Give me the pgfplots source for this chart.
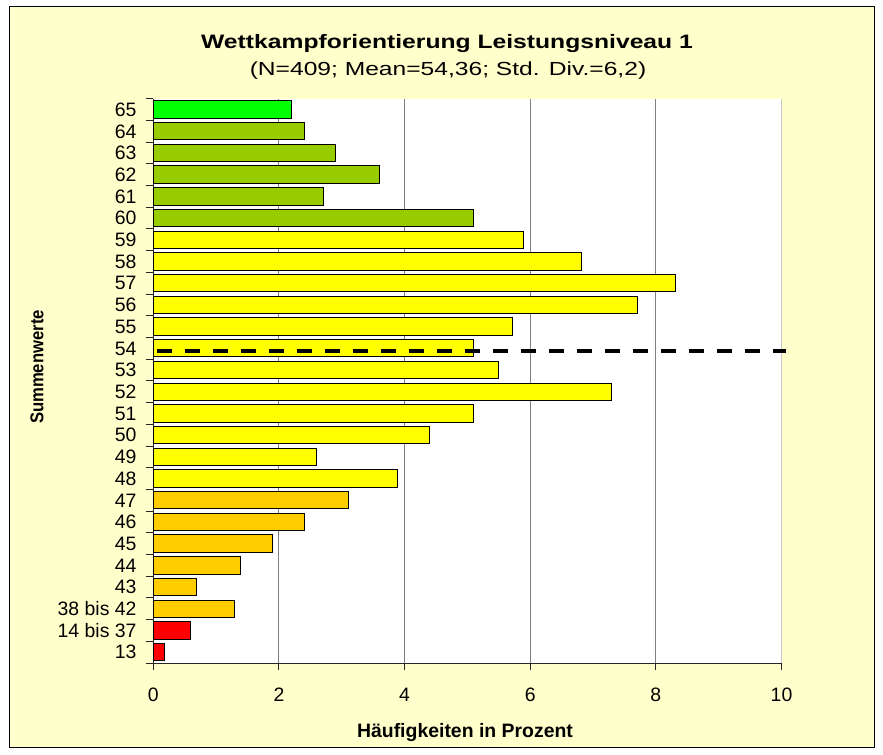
\documentclass[border=0pt]{standalone}
\usepackage{pgfplots}
\pgfplotsset{compat=1.18}
\usepackage{graphicx}
\usepackage{fontspec}
\setmainfont{Liberation Sans}
\definecolor{bgyellow}{HTML}{FFFFCC}
\definecolor{cgreen}{HTML}{00FF00}
\definecolor{colive}{HTML}{99CC00}
\definecolor{cyellow}{HTML}{FFFF00}
\definecolor{cgold}{HTML}{FFCC00}
\definecolor{cred}{HTML}{FF0000}
\definecolor{gridgray}{HTML}{808080}
\definecolor{edgegray}{HTML}{C8C8C8}
\pgfplotsset{mybar/.style={xbar, bar width=0.8, bar shift=0pt, draw=black, line width=1bp}}
\begin{document}
\begin{tikzpicture}
\fill[white] (0bp,0bp) rectangle (883bp,755bp);
\filldraw[fill=bgyellow, draw=black, line width=1bp] (9bp,7bp) rectangle (874bp,748bp);
\begin{axis}[
  at={(153.3bp,92bp)}, anchor=south west,
  scale only axis, width=628.2bp, height=564.3bp,
  xmin=0, xmax=10, ymin=-0.5, ymax=25.5,
  clip=false,
  axis x line*=bottom, axis y line*=left,
  axis line style={black!85, line width=0.9bp},
  axis background/.style={fill=white},
  xtick={0,2,4,6,8}, extra x ticks={10},
  extra x tick style={major grid style={edgegray, line width=0.9bp}},
  xmajorgrids, major grid style={gridgray, line width=0.9bp},
  ytick={-0.5,0.5,...,25.5}, yticklabels={},
  extra y ticks={0,1,...,25},
  extra y tick labels={13,14 bis 37,38 bis 42,43,44,45,46,47,48,49,50,51,52,53,54,55,56,57,58,59,60,61,62,63,64,65},
  extra y tick style={major tick length=0pt},
  tick align=outside, major tick length=7bp,
  tick style={black!85, line width=0.9bp},
  /pgf/number format/assume math mode=true,
  xticklabel style={font=\fontsize{19.5}{19.5}\selectfont, anchor=base, yshift=-31.7bp},
  yticklabel style={font=\fontsize{19.5}{19.5}\selectfont, anchor=base east, inner sep=0pt, xshift=-16.6bp, yshift=-6.8bp},
]
\addplot[mybar, fill=cred] coordinates {(0.18,0) (0.59,1)};
\addplot[mybar, fill=cgold] coordinates {(1.29,2) (0.69,3) (1.39,4) (1.90,5) (2.41,6) (3.10,7)};
\addplot[mybar, fill=cyellow] coordinates {(3.89,8) (2.59,9) (4.40,10) (5.09,11) (7.30,12) (5.50,13) (5.09,14) (5.71,15) (7.70,16) (8.32,17) (6.81,18) (5.90,19)};
\addplot[mybar, fill=colive] coordinates {(5.09,20) (2.71,21) (3.60,22) (2.90,23) (2.41,24)};
\addplot[mybar, fill=cgreen] coordinates {(2.20,25)};
\addplot[draw=black, line width=4bp, dash pattern=on 14.7bp off 13.3bp, mark=none] coordinates {(0.06,13.89) (10.07,13.89)};
\end{axis}
\node[anchor=base] at (447bp,706bp) {\scalebox{1.27}[1]{\fontsize{19.5}{20}\selectfont\bfseries Wettkampforientierung Leistungsniveau 1}};
\node[anchor=base] at (448bp,679bp) {\scalebox{1.3}[1]{\fontsize{19}{20}\selectfont (N=409; Mean=54,36; Std. Div.=6,2)}};
\node[anchor=base] at (465bp,17.7bp) {\fontsize{19.5}{20}\selectfont\bfseries Häufigkeiten in Prozent};
\node[anchor=base, rotate=90] at (43.3bp,388bp) {\scalebox{0.9}[1]{\fontsize{18.6}{20}\selectfont\bfseries Summenwerte}};
\end{tikzpicture}
\end{document}
